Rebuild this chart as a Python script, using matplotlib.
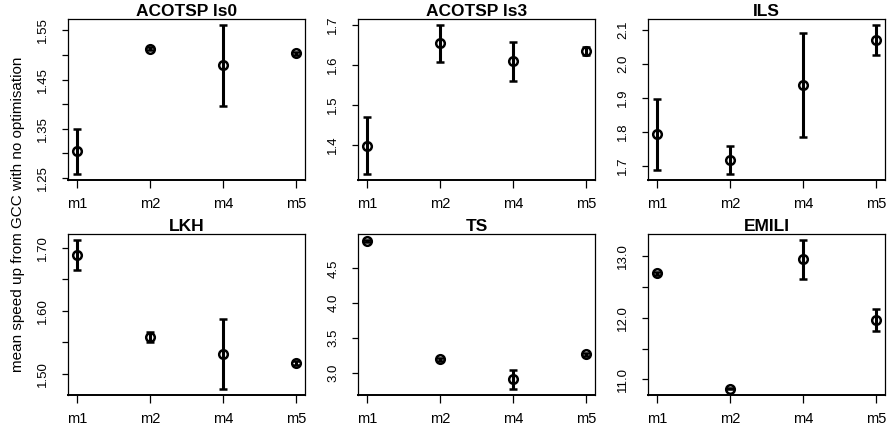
import matplotlib
matplotlib.use("Agg")
import matplotlib.pyplot as plt
import numpy as np

plt.rcParams["font.family"] = ["Liberation Sans", "DejaVu Sans"]

methods = ["m1", "m2", "m4", "m5"]
titles = ["ACOTSP ls0", "ACOTSP ls3", "ILS", "LKH", "TS", "EMILI"]

# mean speed-up and half-width of the error bar for each benchmark
acotsp_ls0_mean = [1.304, 1.513, 1.479, 1.503]
acotsp_ls0_err = [0.046, 0.003, 0.082, 0.004]
acotsp_ls3_mean = [1.398, 1.653, 1.608, 1.635]
acotsp_ls3_err = [0.071, 0.046, 0.049, 0.010]
ils_mean = [1.793, 1.717, 1.938, 2.071]
ils_err = [0.105, 0.041, 0.153, 0.044]
lkh_mean = [1.688, 1.558, 1.531, 1.517]
lkh_err = [0.024, 0.008, 0.056, 0.003]
ts_mean = [4.894, 3.188, 2.900, 3.264]
ts_err = [0.010, 0.020, 0.142, 0.020]
emili_mean = [12.714, 10.850, 12.940, 11.965]
emili_err = [0.030, 0.010, 0.310, 0.180]

means = [acotsp_ls0_mean, acotsp_ls3_mean, ils_mean, lkh_mean, ts_mean, emili_mean]
errs = [acotsp_ls0_err, acotsp_ls3_err, ils_err, lkh_err, ts_err, emili_err]

# y tick positions and their labels (blank where the label is dropped)
yticks = [
    [1.25, 1.30, 1.35, 1.40, 1.45, 1.50, 1.55],
    [1.4, 1.5, 1.6, 1.7],
    [1.7, 1.8, 1.9, 2.0, 2.1],
    [1.50, 1.55, 1.60, 1.65, 1.70],
    [3.0, 3.5, 4.0, 4.5],
    [11.0, 11.5, 12.0, 12.5, 13.0],
]
ylabels = [
    ["1.25", "", "1.35", "", "1.45", "", "1.55"],
    ["1.4", "1.5", "1.6", "1.7"],
    ["1.7", "1.8", "1.9", "2.0", "2.1"],
    ["1.50", "", "1.60", "", "1.70"],
    ["3.0", "3.5", "4.0", "4.5"],
    ["11.0", "", "12.0", "", "13.0"],
]

W, H = 888, 437
fig = plt.figure(figsize=(W / 100, H / 100), dpi=100)

lefts = [68, 358, 648]
tops = [19, 234.3]
pw, ph = 237, 161

x = np.arange(len(methods))
for i in range(6):
    r, c = divmod(i, 3)
    ax = fig.add_axes([lefts[c] / W, 1 - (tops[r] + ph) / H, pw / W, ph / H])
    m = np.array(means[i])
    e = np.array(errs[i])
    ax.errorbar(x, m, yerr=e, fmt="o", color="black", ecolor="black",
                elinewidth=2.2, capsize=2.6, capthick=2.2,
                markersize=6.2, markerfacecolor="none", markeredgewidth=1.8)
    lo, hi = (m - e).min(), (m + e).max()
    pad = (hi - lo) * 0.04
    ax.set_ylim(lo - pad, hi + pad)
    ax.set_xlim(-0.12, 3.12)
    ax.set_xticks(x)
    ax.set_xticklabels(methods)
    ax.set_yticks(yticks[i])
    ax.set_yticklabels(ylabels[i], rotation=90, va="center")
    ax.tick_params(axis="x", length=5.5, width=0.9, pad=6.5, labelsize=10.5)
    ax.tick_params(axis="y", length=4.5, width=0.9, pad=9, labelsize=9.5)
    for s in ax.spines.values():
        s.set_linewidth(0.9)
    ax.spines["bottom"].set_linewidth(1.4)
    ax.set_title(titles[i], fontsize=12.5, fontweight="bold", pad=1.5)

fig.text(18 / W, 1 - 214.5 / H, "mean speed up from GCC with no optimisation",
         rotation=90, ha="center", va="center", fontsize=11)

fig.savefig("out.png", dpi=100)
